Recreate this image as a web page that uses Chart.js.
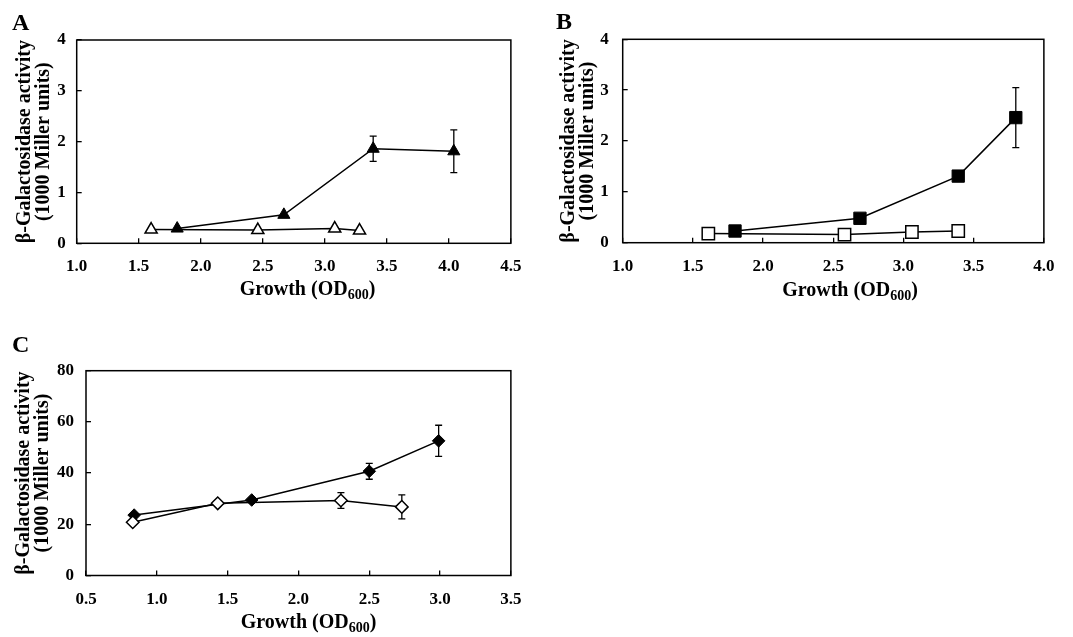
<!DOCTYPE html>
<html><head><meta charset="utf-8">
<script src="https://cdn.jsdelivr.net/npm/chart.js@4.4.1/dist/chart.umd.min.js"></script>
<style>
html,body{margin:0;padding:0;background:#fff;}
#wrap{position:relative;width:1073px;height:637px;overflow:hidden;background:#fff;}
canvas{position:absolute;}
</style></head><body>
<div id="wrap">
<canvas id="cA" width="540" height="310" style="left:0;top:0;width:540px;height:310px"></canvas>
<canvas id="cB" width="533" height="310" style="left:540px;top:0;width:533px;height:310px"></canvas>
<canvas id="cC" width="540" height="327" style="left:0;top:310px;width:540px;height:327px"></canvas>
</div>
<script>
// ---------- Panel A ----------
const aFilledX   = [1.81, 2.67, 3.39, 4.04];
const aFilledY   = [0.29, 0.56, 1.86, 1.81];
const aFilledErr = [0, 0, 0.25, 0.42];
const aOpenX     = [1.60, 2.46, 3.08, 3.28];
const aOpenY     = [0.27, 0.26, 0.29, 0.25];
const aXTicks    = [1.0, 1.5, 2.0, 2.5, 3.0, 3.5, 4.0, 4.5];
const aYTicks    = [0, 1, 2, 3, 4];

// ---------- Panel B ----------
const bFilledX   = [1.80, 2.69, 3.39, 3.80];
const bFilledY   = [0.23, 0.48, 1.31, 2.46];
const bFilledErr = [0, 0, 0, 0.59];
const bOpenX     = [1.61, 2.58, 3.06, 3.39];
const bOpenY     = [0.18, 0.16, 0.21, 0.23];
const bXTicks    = [1.0, 1.5, 2.0, 2.5, 3.0, 3.5, 4.0];
const bYTicks    = [0, 1, 2, 3, 4];

// ---------- Panel C ----------
const cFilledX   = [0.84, 1.67, 2.50, 2.99];
const cFilledY   = [23.6, 29.5, 40.7, 52.6];
const cFilledErr = [0, 0, 3.1, 6.1];
const cOpenX     = [0.83, 1.43, 2.30, 2.73];
const cOpenY     = [20.8, 28.2, 29.3, 26.8];
const cOpenErr   = [0, 0, 3.1, 4.7];
const cXTicks    = [0.5, 1.0, 1.5, 2.0, 2.5, 3.0, 3.5];
const cYTicks    = [0, 20, 40, 60, 80];

// ---------- Text ----------
const yTitleLines = ['\u03B2-Galactosidase activity', '(1000 Miller units)'];
const xTitleMain  = 'Growth (OD';
const xTitleSub   = '600';
const xTitleEnd   = ')';

const FONT = '"Liberation Serif", "Times New Roman", serif';

function pts(xs, ys) { return xs.map((x, i) => ({ x: x, y: ys[i] })); }

const panelDecor = {
  id: 'panelDecor',
  beforeDatasetsDraw(chart) {
    const ctx = chart.ctx, xs = chart.scales.x, ys = chart.scales.y;
    ctx.save();
    ctx.strokeStyle = '#000';
    ctx.lineWidth = 1.3;
    chart.data.datasets.forEach(ds => {
      if (!ds.errors) return;
      ds.data.forEach((p, i) => {
        const e = ds.errors[i];
        if (!e) return;
        const px = xs.getPixelForValue(p.x);
        const y1 = ys.getPixelForValue(p.y + e);
        const y2 = ys.getPixelForValue(p.y - e);
        ctx.beginPath();
        ctx.moveTo(px, y1); ctx.lineTo(px, y2);
        ctx.moveTo(px - 3.5, y1); ctx.lineTo(px + 3.5, y1);
        ctx.moveTo(px - 3.5, y2); ctx.lineTo(px + 3.5, y2);
        ctx.stroke();
      });
    });
    ctx.restore();
  },
  afterDraw(chart, args, o) {
    const ctx = chart.ctx, a = chart.chartArea;
    ctx.save();
    ctx.strokeStyle = '#000';
    ctx.lineWidth = 1.5;
    ctx.strokeRect(a.left, a.top, a.right - a.left, a.bottom - a.top);
    ctx.fillStyle = '#000';
    ctx.textAlign = 'left';
    ctx.textBaseline = 'alphabetic';
    ctx.font = 'bold 24px ' + FONT;
    ctx.fillText(o.letter, o.letterX, o.letterY);
    const f1 = 'bold 20px ' + FONT, f2 = 'bold 14px ' + FONT;
    ctx.font = f1;
    const w1 = ctx.measureText(xTitleMain).width;
    const w3 = ctx.measureText(xTitleEnd).width;
    ctx.font = f2;
    const w2 = ctx.measureText(xTitleSub).width;
    let x0 = o.xTitleCenter - (w1 + w2 + w3) / 2;
    ctx.font = f1; ctx.fillText(xTitleMain, x0, o.xTitleBase);
    ctx.font = f2; ctx.fillText(xTitleSub, x0 + w1, o.xTitleBase + 4);
    ctx.font = f1; ctx.fillText(xTitleEnd, x0 + w1 + w2, o.xTitleBase);
    ctx.restore();
  }
};

function makeChart(id, p) {
  const lineCommon = { showLine: true, borderColor: '#000', borderWidth: 1.5, tension: 0, fill: false,
                       pointBorderColor: '#000' };
  return new Chart(document.getElementById(id), {
    type: 'scatter',
    data: { datasets: p.datasets.map(d => Object.assign({}, lineCommon, d)) },
    options: {
      responsive: false, animation: false, events: [],
      layout: { padding: { left: 0, top: p.top, right: p.right, bottom: 0 } },
      plugins: { legend: { display: false }, tooltip: { enabled: false },
                 panelDecor: p.decor },
      scales: {
        x: {
          type: 'linear', min: p.xTicks[0], max: p.xTicks[p.xTicks.length - 1],
          afterBuildTicks: s => { s.ticks = p.xTicks.map(v => ({ value: v })); },
          afterFit: s => { s.height = p.xH; },
          border: { display: false },
          grid: { drawOnChartArea: false, drawTicks: true, tickLength: -5, color: '#000', lineWidth: 1.3 },
          ticks: { autoSkip: false, maxRotation: 0, padding: 18.5, color: '#000',
                   font: { family: FONT, size: 17, weight: 'bold' },
                   callback: v => Number(v).toFixed(1) }
        },
        y: {
          type: 'linear', min: p.yTicks[0], max: p.yTicks[p.yTicks.length - 1],
          afterBuildTicks: s => { s.ticks = p.yTicks.map(v => ({ value: v })); },
          afterFit: s => { s.width = p.yW; },
          border: { display: false },
          grid: { drawOnChartArea: false, drawTicks: true, tickLength: -5, color: '#000', lineWidth: 1.3 },
          ticks: { autoSkip: false, padding: p.yPad, color: '#000',
                   font: { family: FONT, size: 17, weight: 'bold' },
                   callback: v => String(v) },
          title: { display: true, text: yTitleLines, color: '#000',
                   font: { family: FONT, size: 20, weight: 'bold', lineHeight: 0.95 },
                   padding: { top: p.yTitlePad, bottom: 0 } }
        }
      }
    },
    plugins: [panelDecor]
  });
}

makeChart('cA', {
  top: 40, right: 25.7, xH: 66.7, yW: 76.7, yPad: 16, yTitlePad: 15.5,
  xTicks: aXTicks, yTicks: aYTicks,
  decor: { letter: 'A', letterX: 12, letterY: 30, xTitleCenter: 307.5, xTitleBase: 295 },
  datasets: [
    { data: pts(aFilledX, aFilledY), errors: aFilledErr, pointStyle: 'triangle', pointRadius: 7,
      pointBackgroundColor: '#000', pointBorderWidth: 1 },
    { data: pts(aOpenX, aOpenY), pointStyle: 'triangle', pointRadius: 7,
      pointBackgroundColor: '#fff', pointBorderWidth: 1.5 }
  ]
});

makeChart('cB', {
  top: 39.3, right: 15.7, xH: 67.3, yW: 82.7, yPad: 19, yTitlePad: 19.3,
  xTicks: bXTicks, yTicks: bYTicks,
  decor: { letter: 'B', letterX: 16, letterY: 28.5, xTitleCenter: 310, xTitleBase: 295.5 },
  datasets: [
    { data: pts(bFilledX, bFilledY), errors: bFilledErr, pointStyle: 'rect', pointRadius: 8.7,
      pointBackgroundColor: '#000', pointBorderWidth: 1 },
    { data: pts(bOpenX, bOpenY), pointStyle: 'rect', pointRadius: 8.7,
      pointBackgroundColor: '#fff', pointBorderWidth: 1.5 }
  ]
});

makeChart('cC', {
  top: 60.7, right: 23.3, xH: 61.5, yW: 86, yPad: 17, yTitlePad: 14.7,
  xTicks: cXTicks, yTicks: cYTicks,
  decor: { letter: 'C', letterX: 12, letterY: 41.5, xTitleCenter: 308.6, xTitleBase: 318.3 },
  datasets: [
    { data: pts(cOpenX, cOpenY), errors: cOpenErr, pointStyle: 'rectRot', pointRadius: 6.3,
      pointBackgroundColor: '#fff', pointBorderWidth: 1.5 },
    { data: pts(cFilledX, cFilledY), errors: cFilledErr, pointStyle: 'rectRot', pointRadius: 6.3,
      pointBackgroundColor: '#000', pointBorderWidth: 1 }
  ]
});
</script>
</body></html>
